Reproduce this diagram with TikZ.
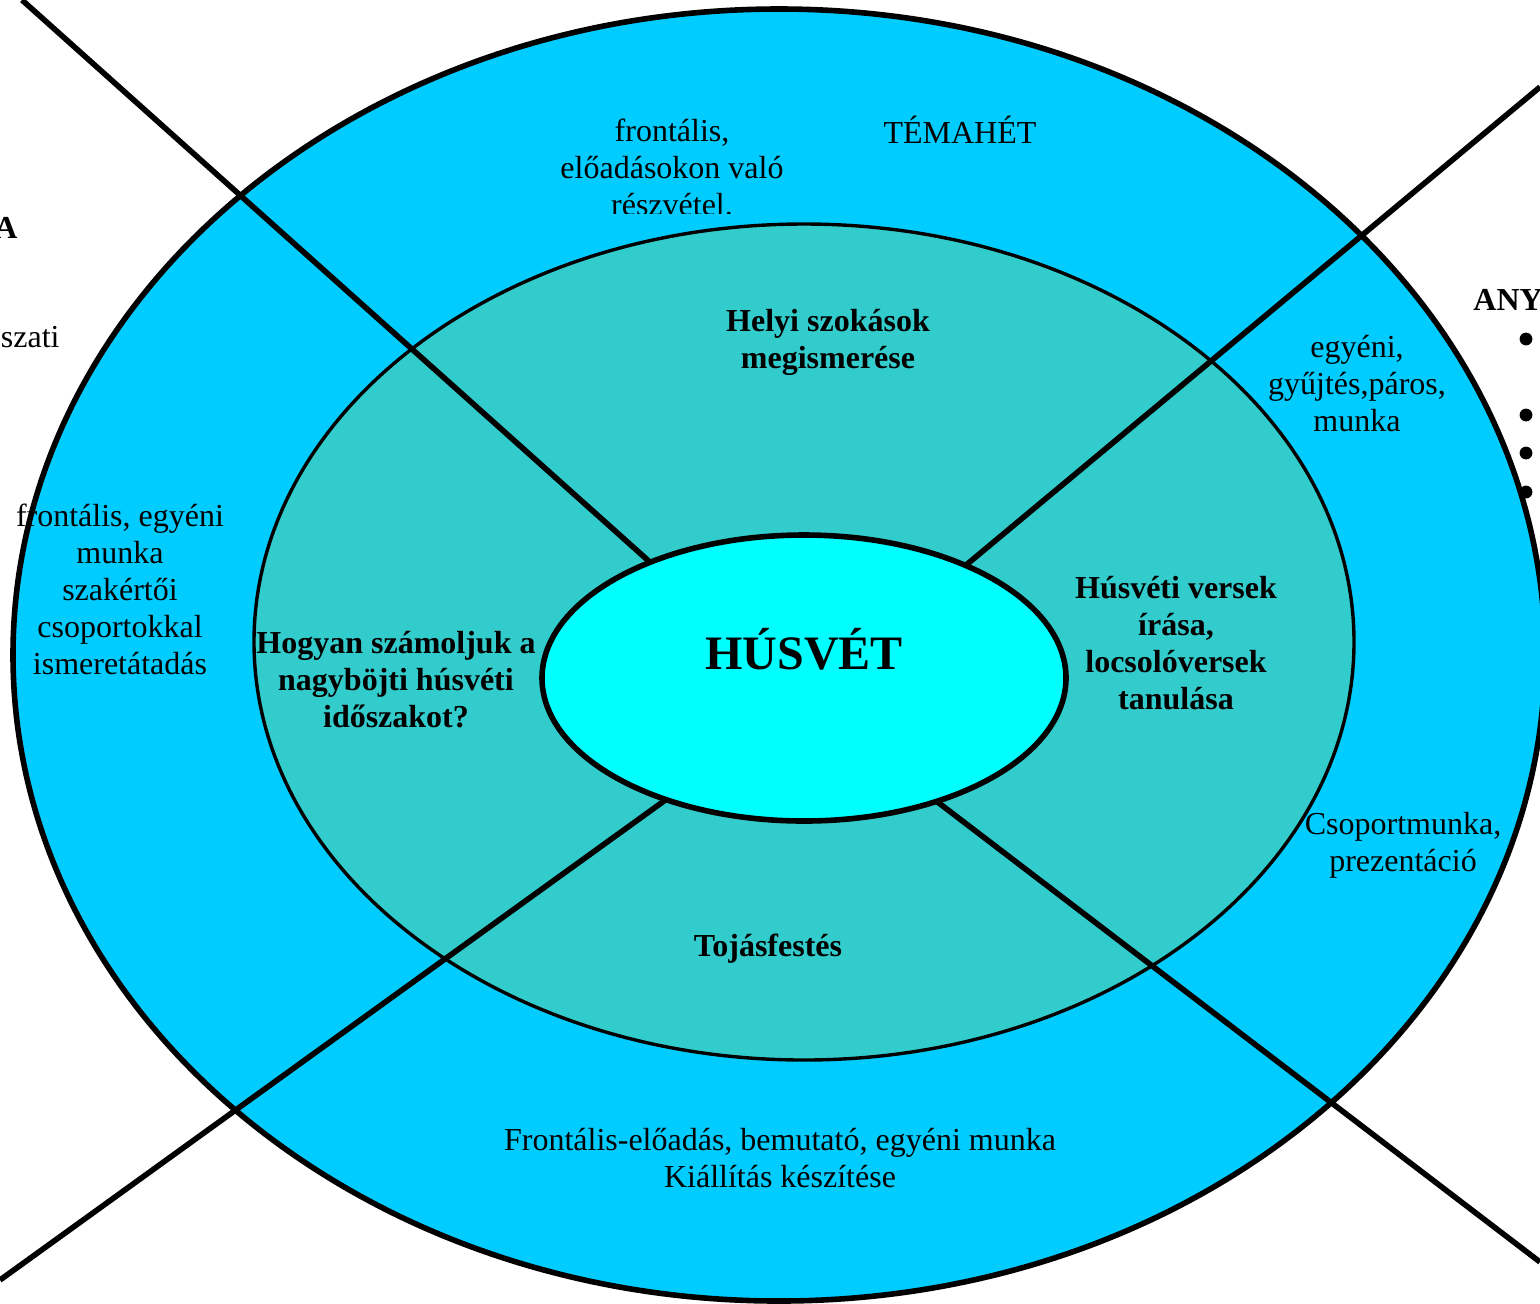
\documentclass[tikz,border=0pt]{standalone}
\usepackage{fontspec}
\setmainfont{Liberation Serif}
\definecolor{outerblue}{HTML}{00CCFF}
\definecolor{midteal}{HTML}{33CCCC}
\definecolor{innercyan}{HTML}{00FFFF}
\begin{document}
\begin{tikzpicture}[x=0.5pt,y=-0.5pt,
  txt/.style={font=\fontsize{16pt}{18.5pt}\selectfont, align=center, inner sep=0pt},
  btxt/.style={font=\fontsize{16pt}{18.5pt}\selectfont\bfseries, align=center, inner sep=0pt},
  spoke/.style={line width=2.8pt},
  bullet/.style={fill=black}]
\useasboundingbox (0,0) rectangle (1540,1303);
% outer ring
\filldraw[fill=outerblue, draw=black, line width=2.8pt] (779,655) ellipse [x radius=383pt, y radius=323pt];
% middle ring
\filldraw[fill=midteal, draw=black, line width=1.7pt] (804,642) ellipse [x radius=275pt, y radius=209pt];
% spokes
\coordinate (c) at (804,700);
\coordinate (tl) at (22,0);
\coordinate (tr) at (1540,87);
\coordinate (bl) at (0,1280);
\coordinate (br) at (1540,1262);
\draw[spoke] (tl) -- (c);
\draw[spoke] (tr) -- (c);
\draw[spoke] (bl) -- (c);
\draw[spoke] (br) -- (c);
% inner ellipse
\filldraw[fill=innercyan, draw=black, line width=2.8pt] (804,678) ellipse [x radius=131pt, y radius=71.5pt];
\node[font=\fontsize{24pt}{28pt}\selectfont\bfseries, inner sep=0pt] (center) at (804,649) {HÚSVÉT};
% inner ring labels
\node[btxt] (helyi) at (828,342) {Helyi szokások\\megismerése};
\node[btxt] (hogyan) at (396,680) {Hogyan számoljuk a\\nagyböjti húsvéti\\időszakot?};
\node[btxt] (versek) at (1176,643) {Húsvéti versek\\írása,\\locsolóversek\\tanulása};
\node[btxt] (tojas) at (768,949) {Tojásfestés};
% outer ring labels
\begin{scope}
\clip (450,80) rectangle (900,213);
\node[txt] (front1) at (672,167) {frontális,\\előadásokon való\\részvétel.};
\end{scope}
\node[txt] (tema) at (960,130) {TÉMAHÉT};
\node[txt] (egyeni) at (1357,384) {egyéni,\\gyűjtés,páros,\\munka};
\node[txt] (front2) at (120,589) {frontális, egyéni\\munka\\szakértői\\csoportokkal\\ismeretátadás};
\node[txt] (csop) at (1403,845) {Csoportmunka,\\prezentáció};
\node[txt] (bottom) at (780,1158) {Frontális-előadás, bemutató, egyéni munka\\Kiállítás készítése};
% cut-off outside texts
\node[btxt, anchor=east] (leftA) at (18,228) {A};
\node[txt, anchor=east] (leftszati) at (60,337) {szati};
\node[btxt, anchor=west] (rightany) at (1473,300) {ANY};
\fill[bullet] (1526,339) circle (3.2pt);
\fill[bullet] (1526,415) circle (3.2pt);
\fill[bullet] (1526,453) circle (3.2pt);
\fill[bullet] (1526,492) circle (3.2pt);
\end{tikzpicture}
\end{document}
